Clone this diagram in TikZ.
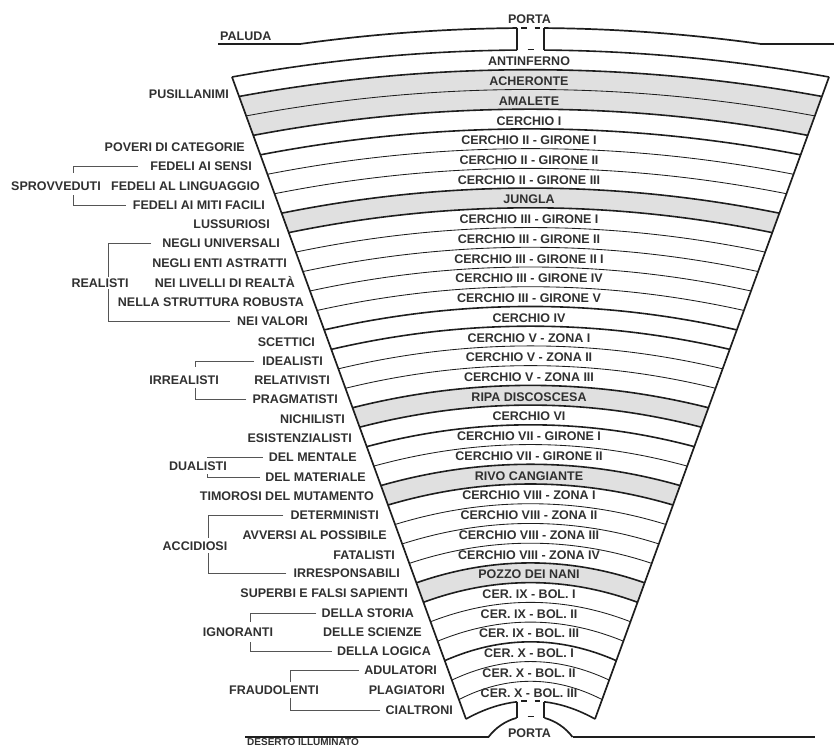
\documentclass[tikz,border=0pt]{standalone}
\usepackage{fontspec}
\setmainfont{Liberation Sans}
\usetikzlibrary{calc}
\definecolor{ink}{HTML}{1E1E1E}
\definecolor{txt}{HTML}{303030}
\definecolor{bandgray}{HTML}{E0E0E0}
\definecolor{brkgray}{HTML}{555555}
\begin{document}
\begin{tikzpicture}[x=1pt,y=-1pt,
  lbl/.style={font=\fontsize{12.5}{14}\selectfont\bfseries, text=txt, inner sep=0pt, text height=9pt, text depth=0pt},
  lft/.style={lbl, anchor=east},
  thickarc/.style={draw=ink, line width=1.6pt},
  thinarc/.style={draw=ink, line width=0.85pt},
  edge/.style={draw=ink, line width=1.7pt},
  brk/.style={draw=brkgray, line width=0.9pt},
  dsh/.style={draw=ink, line width=1.3pt}]
\useasboundingbox (0,0) rectangle (834,747);
\clip (0,0) rectangle (834,747);

% ---- boundary geometry
\foreach \j in {0,...,33}{
  \pgfmathsetmacro\ly{77+(642/33)*\j}
  \pgfmathsetmacro\lx{232+(234/33)*\j}
  \pgfmathsetmacro\rx{829-(234/33)*\j}
  \pgfmathsetmacro\cy{50+(651/33)*\j}
  \pgfmathsetmacro\ay{\ly+(2/3)*(2*\cy-2*\ly)}
  \pgfmathsetmacro\ax{\lx+(2/3)*(530.5-\lx)}
  \pgfmathsetmacro\bx{\rx+(2/3)*(530.5-\rx)}
  \coordinate (L\j) at (\lx,\ly);
  \coordinate (R\j) at (\rx,\ly);
  \coordinate (A\j) at (\ax,\ay);
  \coordinate (B\j) at (\bx,\ay);
}

% ---- grey bands
\foreach \j in {1,2,7,17,21,26}{
  \pgfmathtruncatemacro\k{\j+1}
  \fill[bandgray] (L\j) .. controls (A\j) and (B\j) .. (R\j) -- (R\k) .. controls (B\k) and (A\k) .. (L\k) -- cycle;
}

% ---- boundaries
\foreach \j in {1,3,4,7,8,13,14,17,18,19,21,22,26,27,30}{
  \draw[thickarc] (L\j) .. controls (A\j) and (B\j) .. (R\j);
}
\foreach \j in {2,5,6,9,10,11,12,15,16,20,23,24,25,28,29,31,32}{
  \draw[thinarc] (L\j) .. controls (A\j) and (B\j) .. (R\j);
}

% ---- side edges
\draw[edge] (L0) -- (L33);
\draw[edge] (R0) -- (R33);

% ---- top/bottom arcs and swamp line with gates
\coordinate (pal0) at (218,44);
\coordinate (pal1) at (300,44);
\coordinate (palA) at (453.67,22.67);
\coordinate (palB) at (607.33,22.67);
\coordinate (pal2) at (761,44);
\coordinate (pal3) at (834,44);
\begin{scope}
  \clip (0,0) rectangle (517,747) (544,0) rectangle (834,747);
  \draw[thickarc] (L0) .. controls (A0) and (B0) .. (R0);
  \draw[thickarc] (L33) .. controls (A33) and (B33) .. (R33);
  \draw[edge] (pal0) -- (pal1) .. controls (palA) and (palB) .. (pal2) -- (pal3);
\end{scope}

% top gate
\coordinate (tg1) at (517,28);
\coordinate (tg2) at (517,50);
\coordinate (tg3) at (544,28);
\coordinate (tg4) at (544,50);
\draw[edge] (tg1) -- (tg2);
\draw[edge] (tg3) -- (tg4);
\coordinate (td1) at (521,28); \coordinate (td2) at (526.5,28);
\coordinate (td3) at (534.5,28); \coordinate (td4) at (540,28);
\coordinate (td5) at (527.5,49.5); \coordinate (td6) at (533.5,49.5);
\draw[dsh] (td1) -- (td2);
\draw[dsh] (td3) -- (td4);
\draw[dsh] (td5) -- (td6);

% bottom gate
\coordinate (bg1) at (517,702);
\coordinate (bg2) at (517,718);
\coordinate (bg3) at (544,702);
\coordinate (bg4) at (544,718);
\draw[edge] (bg1) -- (bg2);
\draw[edge] (bg3) -- (bg4);
\coordinate (bd1) at (521,701); \coordinate (bd2) at (526.5,701);
\coordinate (bd3) at (534.5,701); \coordinate (bd4) at (540,701);
\coordinate (bd5) at (527.5,716.5); \coordinate (bd6) at (533.5,716.5);
\draw[dsh] (bd1) -- (bd2);
\draw[dsh] (bd3) -- (bd4);
\draw[dsh] (bd5) -- (bd6);
\coordinate (bump1) at (488.5,737);
\coordinate (bump2) at (572.5,737);
\draw[edge] (bump1) arc[start angle=143.13, end angle=105.47, radius=52.5pt];
\draw[edge] (bump2) arc[start angle=36.87, end angle=74.53, radius=52.5pt];
\coordinate (des0) at (245,737);
\coordinate (des1) at (815,737);
\draw[edge] (des0) -- (bump1);
\draw[edge] (bump2) -- (des1);

% ---- top/bottom labels
\node[lbl, anchor=west] (paluda) at (220,36) {PALUDA};
\node[lbl] (portatop) at (529.5,19) {PORTA};
\node[lbl] (portabot) at (529.5,733) {PORTA};
\node[lbl, font=\fontsize{10}{11}\selectfont\bfseries, text height=7.2pt, anchor=west] (deserto) at (247,741.9) {DESERTO ILLUMINATO};

% ---- central labels
\foreach \t [count=\i from 0] in {ANTINFERNO,ACHERONTE,AMALETE,CERCHIO I,
  CERCHIO II - GIRONE I,CERCHIO II - GIRONE II,CERCHIO II - GIRONE III,JUNGLA,
  CERCHIO III - GIRONE I,CERCHIO III - GIRONE II,CERCHIO III - GIRONE II I,
  CERCHIO III - GIRONE IV,CERCHIO III - GIRONE V,CERCHIO IV,
  CERCHIO V - ZONA I,CERCHIO V - ZONA II,CERCHIO V - ZONA III,RIPA DISCOSCESA,
  CERCHIO VI,CERCHIO VII - GIRONE I,CERCHIO VII - GIRONE II,RIVO CANGIANTE,
  CERCHIO VIII - ZONA I,CERCHIO VIII - ZONA II,CERCHIO VIII - ZONA III,
  CERCHIO VIII - ZONA IV,POZZO DEI NANI,CER. IX - BOL. I,CER. IX - BOL. II,
  CER. IX - BOL. III,CER. X - BOL. I,CER. X - BOL. II,CER. X - BOL. III}{
  \pgfmathsetmacro\yy{51.5+(651/33)*(\i+0.5)}
  \node[lbl] (c\i) at (529,\yy) {\t};
}

% ---- left labels
\node[lft] (pusil) at (229,94) {PUSILLANIMI};
\node[lft] (poveri) at (245,147) {POVERI DI CATEGORIE};
\node[lft] (fsensi) at (252,166) {FEDELI AI SENSI};
\node[lft] (fling) at (260,186) {FEDELI AL LINGUAGGIO};
\node[lbl] (sprov) at (56,186) {SPROVVEDUTI};
\node[lft] (fmiti) at (265,205) {FEDELI AI MITI FACILI};
\node[lft] (lussu) at (270,224) {LUSSURIOSI};
\node[lft] (nuniv) at (280,243) {NEGLI UNIVERSALI};
\node[lft] (nenti) at (287,263) {NEGLI ENTI ASTRATTI};
\node[lbl] (reali) at (100,283) {REALISTI};
\node[lft] (nliv) at (295,283) {NEI LIVELLI DI REALTÀ};
\node[lft] (nstru) at (304,302) {NELLA STRUTTURA ROBUSTA};
\node[lft] (nval) at (308,321) {NEI VALORI};
\node[lft] (scett) at (315,342) {SCETTICI};
\node[lft] (ideal) at (323,361) {IDEALISTI};
\node[lbl] (irreal) at (184,380) {IRREALISTI};
\node[lft] (relat) at (330,380) {RELATIVISTI};
\node[lft] (pragm) at (338,399) {PRAGMATISTI};
\node[lft] (nichi) at (345,419) {NICHILISTI};
\node[lft] (esist) at (352,438) {ESISTENZIALISTI};
\node[lft] (dment) at (357,457) {DEL MENTALE};
\node[lbl] (duali) at (198,466) {DUALISTI};
\node[lft] (dmate) at (366,477) {DEL MATERIALE};
\node[lft] (timor) at (374,496) {TIMOROSI DEL MUTAMENTO};
\node[lft] (deter) at (379,515) {DETERMINISTI};
\node[lft] (avver) at (387,535) {AVVERSI AL POSSIBILE};
\node[lbl] (accid) at (195,546) {ACCIDIOSI};
\node[lft] (fatal) at (395,555) {FATALISTI};
\node[lft] (irres) at (400,573) {IRRESPONSABILI};
\node[lft] (superb) at (408,593) {SUPERBI E FALSI SAPIENTI};
\node[lft] (dstor) at (414,613) {DELLA STORIA};
\node[lbl] (ignor) at (238,632) {IGNORANTI};
\node[lft] (dscie) at (422,632) {DELLE SCIENZE};
\node[lft] (dlogi) at (431,651) {DELLA LOGICA};
\node[lft] (adul) at (437,670) {ADULATORI};
\node[lft] (plag) at (445,690) {PLAGIATORI};
\node[lbl] (fraud) at (274,690) {FRAUDOLENTI};
\node[lft] (cialt) at (453,710) {CIALTRONI};

% ---- brackets
\coordinate (sp1) at (73,173);  \coordinate (sp2) at (73,195);
\draw[brk] ([xshift=-12pt]fsensi.west) -| (sp1);
\draw[brk] ([xshift=-7pt]fmiti.west) -| (sp2);
\coordinate (re1) at (108,277); \coordinate (re2) at (108,289);
\draw[brk] ([xshift=-11pt]nuniv.west) -| (re1);
\draw[brk] ([xshift=-7pt]nval.west) -| (re2);
\coordinate (ir1) at (195,367); \coordinate (ir2) at (195,388);
\draw[brk] ([xshift=-8pt]ideal.west) -| (ir1);
\draw[brk] ([xshift=-6pt]pragm.west) -| (ir2);
\coordinate (du1) at (207,458); \coordinate (du2) at (207,474);
\draw[brk] ([xshift=-6pt]dment.west) -| (du1);
\draw[brk] ([xshift=-5pt]dmate.west) -| (du2);
\coordinate (ac1) at (208,538); \coordinate (ac2) at (208,553);
\draw[brk] ([xshift=-7pt]deter.west) -| (ac1);
\draw[brk] ([xshift=-7pt]irres.west) -| (ac2);
\coordinate (ig1) at (250,622); \coordinate (ig2) at (250,642);
\draw[brk] ([xshift=-5pt]dstor.west) -| (ig1);
\draw[brk] ([xshift=-5pt]dlogi.west) -| (ig2);
\coordinate (fr1) at (290,682); \coordinate (fr2) at (290,698);
\draw[brk] ([xshift=-5pt]adul.west) -| (fr1);
\draw[brk] ([xshift=-5pt]cialt.west) -| (fr2);
\end{tikzpicture}
\end{document}
